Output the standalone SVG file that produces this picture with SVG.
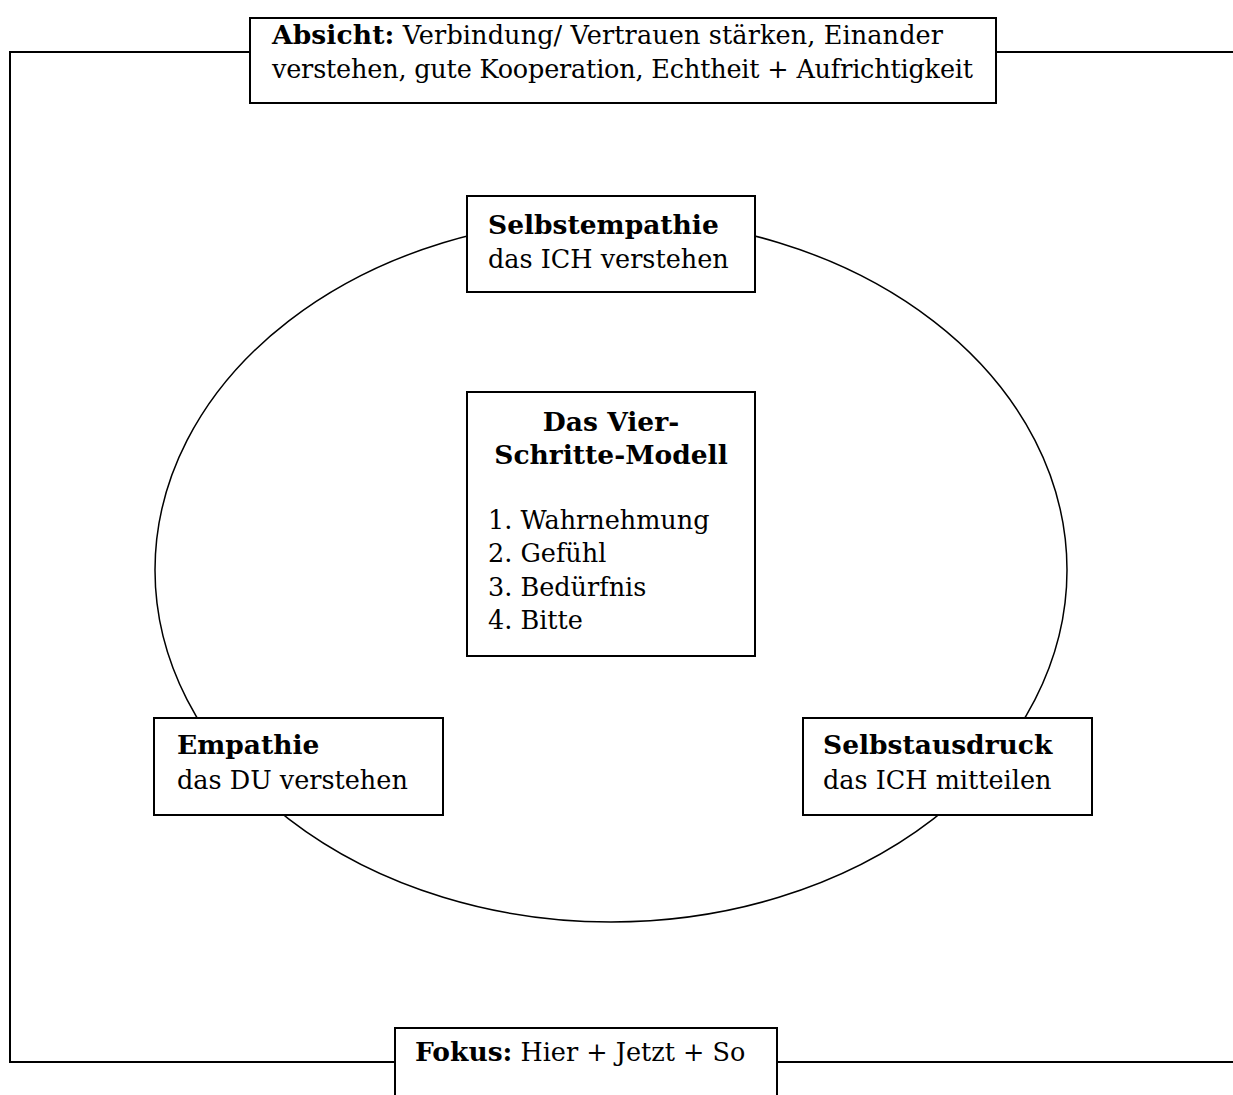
<svg xmlns="http://www.w3.org/2000/svg" width="1233" height="1095" viewBox="0 0 1233 1095">
<style>
.box{fill:#fff;stroke:#000;stroke-width:2}
.ln{fill:none;stroke:#000;stroke-width:2}
.ell{fill:none;stroke:#000;stroke-width:1.5}
text{font-family:"DejaVu Serif","Liberation Serif",serif;font-size:25.5px;fill:#000}
.b{font-weight:bold;font-size:26.5px}
</style>
<rect width="1233" height="1095" fill="#fff"/>
<g id="connectors">
<polyline class="ln" points="250,52 10,52 10,1062 395,1062"/>
<line class="ln" x1="996" y1="52" x2="1233" y2="52"/>
<line class="ln" x1="777" y1="1062" x2="1233" y2="1062"/>
</g>
<g id="cycle">
<ellipse class="ell" cx="611" cy="570" rx="456" ry="352"/>
</g>
<g id="absicht">
<rect class="box" x="250" y="18" width="746" height="85"/>
<text x="272" y="44" textLength="671"><tspan class="b">Absicht:</tspan> Verbindung/ Vertrauen stärken, Einander</text>
<text x="272" y="78" textLength="701">verstehen, gute Kooperation, Echtheit + Aufrichtigkeit</text>
</g>
<g id="selbstempathie">
<rect class="box" x="467" y="196" width="288" height="96"/>
<text x="488" y="234" class="b">Selbstempathie</text>
<text x="488" y="268">das ICH verstehen</text>
</g>
<g id="modell">
<rect class="box" x="467" y="392" width="288" height="264"/>
<text x="611" y="431" class="b" text-anchor="middle">Das Vier-</text>
<text x="611" y="464" class="b" text-anchor="middle">Schritte-Modell</text>
<text x="488" y="529">1. Wahrnehmung</text>
<text x="488" y="562">2. Gefühl</text>
<text x="488" y="596">3. Bedürfnis</text>
<text x="488" y="629">4. Bitte</text>
</g>
<g id="empathie">
<rect class="box" x="154" y="718" width="289" height="97"/>
<text x="177" y="754" class="b">Empathie</text>
<text x="177" y="789">das DU verstehen</text>
</g>
<g id="selbstausdruck">
<rect class="box" x="803" y="718" width="289" height="97"/>
<text x="823" y="754" class="b">Selbstausdruck</text>
<text x="823" y="789">das ICH mitteilen</text>
</g>
<g id="fokus">
<rect class="box" x="395" y="1028" width="382" height="80"/>
<text x="415" y="1061"><tspan class="b">Fokus:</tspan> Hier + Jetzt + So</text>
</g>
</svg>
